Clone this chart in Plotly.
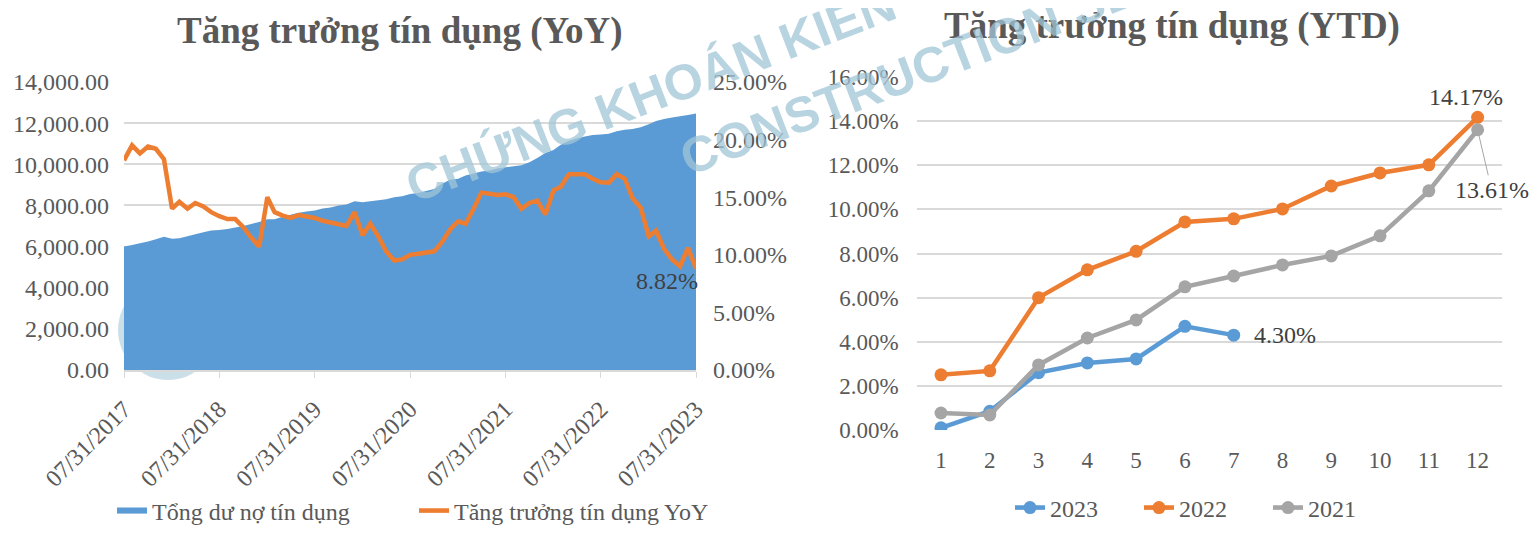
import pandas as pd
import plotly.graph_objects as go

# Dữ liệu biểu đồ trái: tháng 07/2017 -> 07/2023
thang = pd.date_range("2017-07-31", "2023-07-31", freq="ME")

tong_du_no = [6000, 6080, 6160, 6250, 6350, 6480, 6380, 6400, 6500, 6600,
              6700, 6780, 6800, 6850, 6930, 7000, 7100, 7200, 7330, 7330,
              7450, 7550, 7650, 7700, 7750, 7850, 7900, 8000, 8050, 8200,
              8150, 8200, 8250, 8300, 8400, 8450, 8550, 8600, 8700, 8800,
              9050, 9250, 9300, 9450, 9550, 9650, 9700, 9800, 9850, 9900,
              9950, 10100, 10300, 10550, 10700, 10950, 11150, 11250, 11350, 11420,
              11450, 11480, 11600, 11680, 11720, 11800, 11950, 12100, 12200, 12270,
              12330, 12400, 12470]

tang_truong_yoy = [18.2, 19.5, 18.8, 19.4, 19.2, 18.3, 14.0, 14.6, 14.0, 14.5,
                   14.2, 13.7, 13.35, 13.1, 13.1, 12.4, 11.5, 10.7, 15.0, 13.7,
                   13.4, 13.2, 13.45, 13.35, 13.2, 12.95, 12.8, 12.65, 12.5, 13.7,
                   11.7, 12.7, 11.6, 10.3, 9.5, 9.6, 10.0, 10.1, 10.2, 10.3,
                   11.1, 12.2, 12.9, 12.7, 14.0, 15.4, 15.3, 15.2, 15.25, 15.0,
                   14.0, 14.5, 14.7, 13.5, 15.6, 15.9, 17.0, 17.0, 17.0, 16.6,
                   16.3, 16.25, 17.0, 16.6, 14.9, 14.1, 11.6, 12.1, 10.5, 9.6,
                   9.0, 10.6, 8.82]
tang_truong_yoy = [v / 100 for v in tang_truong_yoy]

# Dữ liệu biểu đồ phải: tăng trưởng YTD theo tháng
thang_ytd = list(range(1, 13))
ytd_2023 = [0.10, 0.85, 2.60, 3.04, 3.22, 4.70, 4.30]
ytd_2022 = [2.50, 2.68, 6.00, 7.26, 8.10, 9.43, 9.57, 10.02, 11.06, 11.65, 12.02, 14.17]
ytd_2021 = [0.77, 0.68, 2.95, 4.17, 4.99, 6.49, 6.98, 7.48, 7.89, 8.80, 10.84, 13.61]
ytd_2023 = [v / 100 for v in ytd_2023]
ytd_2022 = [v / 100 for v in ytd_2022]
ytd_2021 = [v / 100 for v in ytd_2021]

# trang html có lề body 8px, nên hình nhỏ hơn cửa sổ 16px
W, H = 1521, 517
LE = 8
FONT = "Liberation Serif"
GRAY = "#595959"
GRID = "#d9d9d9"

def px_x(p):
    return (p - LE) / W

def px_y(p):
    return 1 - (p - LE) / H

fig = go.Figure()

# Biểu đồ YoY
fig.add_trace(go.Scatter(x=thang, y=tong_du_no, name="Tổng dư nợ tín dụng",
                         fill="tozeroy", mode="none", fillcolor="#5b9bd5",
                         xaxis="x", yaxis="y", legend="legend"))
fig.add_trace(go.Scatter(x=thang, y=tang_truong_yoy, name="Tăng trưởng tín dụng YoY",
                         mode="lines", line=dict(color="#ed7d31", width=4.5),
                         xaxis="x", yaxis="y2", legend="legend3"))

# Biểu đồ YTD
for nam, vals, mau in [("2023", ytd_2023, "#5b9bd5"),
                       ("2022", ytd_2022, "#ed7d31"),
                       ("2021", ytd_2021, "#a5a5a5")]:
    fig.add_trace(go.Scatter(x=thang_ytd[:len(vals)], y=vals, name=nam,
                             mode="lines+markers",
                             line=dict(color=mau, width=4.5),
                             marker=dict(color=mau, size=13),
                             xaxis="x3", yaxis="y3", legend="legend2"))

font_trai = dict(family=FONT, size=24, color=GRAY)
font_phai = dict(family=FONT, size=23, color=GRAY)
font_legend = dict(family=FONT, size=24, color=GRAY)
nam_ticks = [d for d in thang if d.month == 7]

fig.update_layout(
    width=W, height=H,
    margin=dict(l=0, r=0, t=0, b=0, autoexpand=False),
    paper_bgcolor="white", plot_bgcolor="white",
    showlegend=True,
    xaxis=dict(domain=[px_x(124), px_x(696)], type="date",
               range=[thang[0], thang[-1]],
               tickvals=nam_ticks, tickformat="%m/%d/%Y", tickangle=-45,
               tickfont=font_trai, showgrid=False, automargin=False,
               showline=True, linecolor=GRID, linewidth=1.5,
               ticks="outside", ticklen=6, tickcolor=GRID, anchor="y",
               ticklabelstandoff=8),
    yaxis=dict(domain=[px_y(370), px_y(82)], range=[0, 14000], dtick=2000,
               tickformat=",.2f", tickfont=font_trai, automargin=False,
               gridcolor=GRID, gridwidth=1.5, zeroline=False,
               ticks="", anchor="x", ticklabelstandoff=14),
    yaxis2=dict(domain=[px_y(370), px_y(82)], range=[0, 0.25], dtick=0.05,
                tickformat=".2%", tickfont=font_trai, overlaying="y",
                automargin=False, ticklabelstandoff=16,
                side="right", showgrid=False, zeroline=False, anchor="x"),
    xaxis3=dict(domain=[px_x(916.6), px_x(1502)], range=[0.5, 12.5],
                tickvals=thang_ytd, tickfont=font_phai, showgrid=False,
                automargin=False, ticklabelstandoff=14,
                zeroline=False, showline=False, anchor="y3"),
    yaxis3=dict(domain=[px_y(430), px_y(77)], range=[0, 0.16], dtick=0.02,
                tickformat=".2%", tickfont=font_phai, automargin=False,
                ticklabelstandoff=17,
                gridcolor=GRID, gridwidth=1.5, zeroline=False, anchor="x3"),
    legend=dict(orientation="h", x=px_x(112), y=px_y(511), yanchor="middle",
                xanchor="left", font=font_legend, bgcolor="rgba(0,0,0,0)"),
    legend3=dict(orientation="h", x=px_x(414), y=px_y(511), yanchor="middle",
                 xanchor="left", font=font_legend, bgcolor="rgba(0,0,0,0)"),
    legend2=dict(orientation="h", x=px_x(1010), y=px_y(508), yanchor="middle",
                 xanchor="left", font=font_legend,
                 entrywidth=84, bgcolor="rgba(0,0,0,0)"),
)

# Tiêu đề
fig.add_annotation(text="<b>Tăng trưởng tín dụng (YoY)</b>", x=px_x(400), y=px_y(31),
                   xref="paper", yref="paper", showarrow=False,
                   xanchor="center", yanchor="middle",
                   font=dict(family=FONT, size=37, color=GRAY))
fig.add_annotation(text="<b>Tăng trưởng tín dụng (YTD)</b>", x=px_x(1172), y=px_y(26),
                   xref="paper", yref="paper", showarrow=False,
                   xanchor="center", yanchor="middle",
                   font=dict(family=FONT, size=37, color=GRAY))

label_font = dict(family=FONT, size=24, color="#404040")
# Nhãn dữ liệu
fig.add_annotation(text=f"{tang_truong_yoy[-1]:.2%}", x=thang[-1], y=tang_truong_yoy[-1],
                   xref="x", yref="y2", showarrow=False, xanchor="right",
                   yanchor="top", xshift=4, yshift=2, font=label_font)
fig.add_annotation(text=f"{ytd_2023[-1]:.2%}", x=len(ytd_2023), y=ytd_2023[-1],
                   xref="x3", yref="y3", showarrow=False, xanchor="left",
                   xshift=18, font=label_font)
fig.add_annotation(text=f"{ytd_2022[-1]:.2%}", x=12, y=ytd_2022[-1],
                   xref="x3", yref="y3", showarrow=False,
                   xshift=-12, yshift=20, font=label_font)
fig.add_annotation(text=f"{ytd_2021[-1]:.2%}", x=12, y=ytd_2021[-1],
                   xref="x3", yref="y3", showarrow=True, arrowhead=0,
                   arrowcolor="#a6a6a6", arrowwidth=1, ax=14, ay=60,
                   standoff=6, font=label_font)

# Watermark
wm_font = dict(family="Liberation Sans", size=50, color="rgba(161,197,215,0.75)",
               weight="bold")
fig.add_annotation(text="CHỨNG KHOÁN KIẾN THIẾT", x=px_x(725), y=px_y(66),
                   xref="paper", yref="paper", showarrow=False, textangle=-21,
                   xanchor="center", yanchor="middle", font=wm_font)
fig.add_annotation(text="CONSTRUCTION SECURITIES", x=px_x(1017), y=px_y(32),
                   xref="paper", yref="paper", showarrow=False, textangle=-21,
                   xanchor="center", yanchor="middle", font=wm_font)
fig.add_shape(type="circle", xref="paper", yref="paper",
              x0=px_x(118), x1=px_x(218), y0=px_y(380), y1=px_y(280),
              fillcolor="rgba(190,215,228,0.8)", line_width=0, layer="below")

fig.write_html("out.html")
